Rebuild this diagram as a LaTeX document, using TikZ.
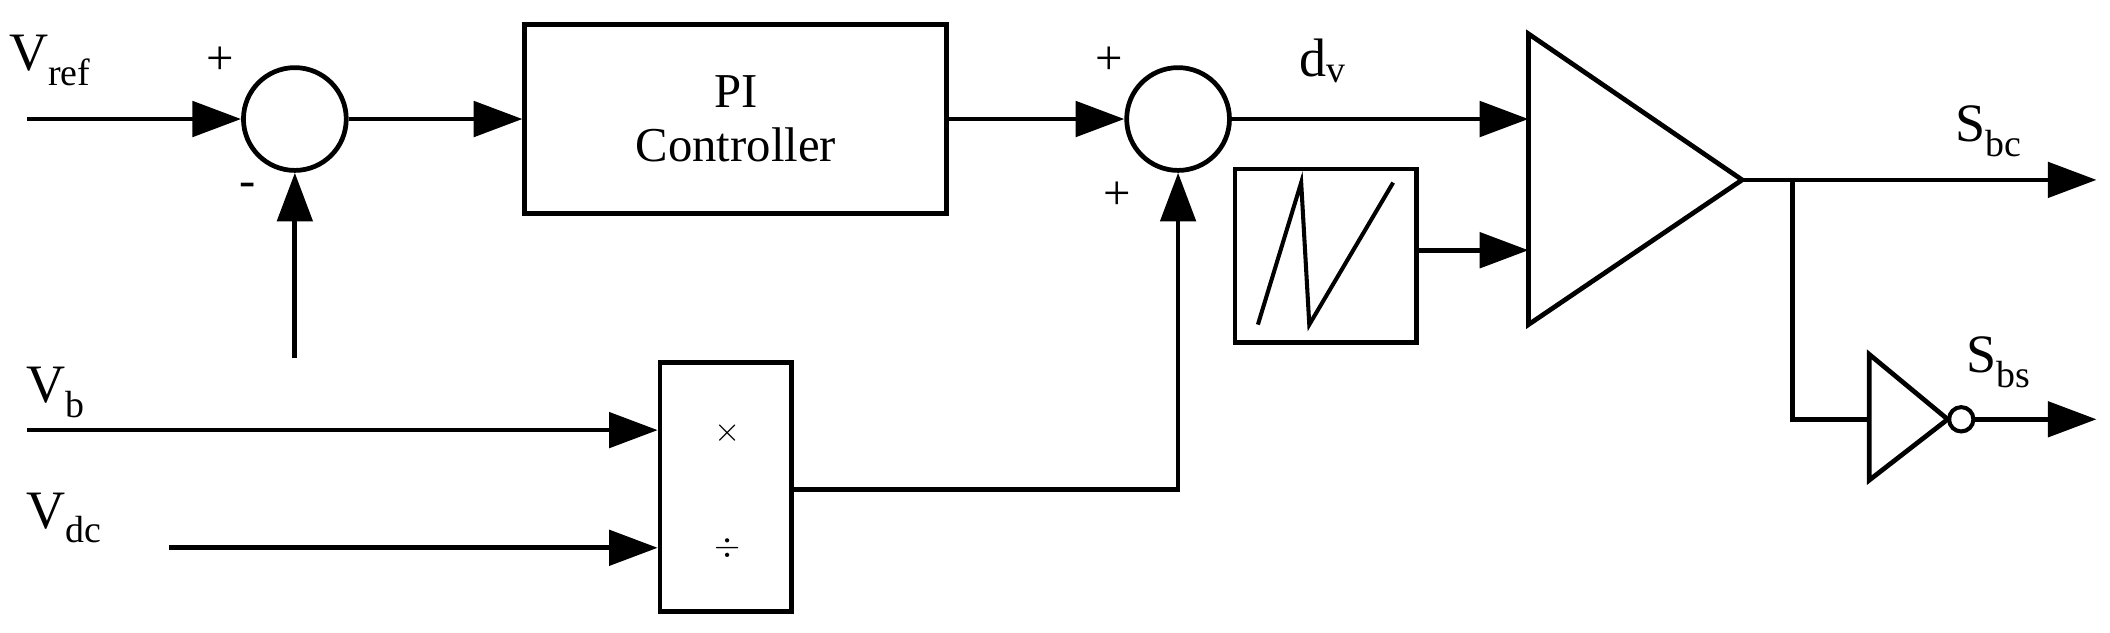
\documentclass[tikz,border=0pt]{standalone}
\usepackage{fontspec}
\setmainfont{Liberation Serif}
\usetikzlibrary{arrows.meta}
\begin{document}
\begin{tikzpicture}[x=1pt,y=-1pt,line width=3.5pt,
  ar/.style={-{Triangle[length=36pt,width=26pt]}},
  lbl/.style={font=\fontsize{40}{44}\selectfont,inner sep=0},
  sgn/.style={font=\fontsize{36}{40}\selectfont,inner sep=0}]
\useasboundingbox (0,0) rectangle (1560,468);
% summers
\node[circle,draw,minimum size=76pt,inner sep=0] (s1) at (218,88) {};
\node[circle,draw,minimum size=76pt,inner sep=0] (s2) at (871,88) {};
\node[draw,minimum width=312pt,minimum height=140pt,inner sep=0,align=center,
  font=\fontsize{36}{40}\selectfont] (pi) at (544,88) {PI\\Controller};
\node[draw,minimum width=97pt,minimum height=184pt,inner sep=0] (md) at (536.5,360) {};
\node[lbl] (mul) at (538,320) {$\times$};
\node[lbl] (dv) at (538,405) {$\div$};
\node[draw,minimum width=134pt,minimum height=128pt,inner sep=0] (saw) at (980,189) {};
\draw[line width=3pt] (930,240)--(962,135)--(968,240)--(1030,135);
% comparator
\node[draw,shape=coordinate] (c1) at (1130,25) {};
\coordinate (c2) at (1130,240);
\coordinate (cout) at (1288,133);
\draw (c1)--(c2)--(cout)--cycle;
\coordinate (cin1) at (1130,88);
\coordinate (cin2) at (1130,185);
% inputs
\coordinate (vr) at (20,88);
\coordinate (vbs) at (20,318);
\coordinate (vds) at (125,405);
\coordinate (fb) at (218,265);
\node[lbl,anchor=west] (Vref) at (5,45) {V\textsubscript{ref}};
\node[lbl,anchor=west] (Vb) at (18,290) {V\textsubscript{b}};
\node[lbl,anchor=west] (Vdc) at (18,383) {V\textsubscript{dc}};
\node[sgn] (p1) at (163,45) {+};
\node[sgn] (m1) at (183,140) {-};
\node[sgn] (p2) at (820,45) {+};
\node[sgn] (p3) at (826,145) {+};
\node[lbl] (dvl) at (978,45) {d\textsubscript{v}};
\draw[ar] (vr)--(s1.west);
\draw[ar] (fb)--(s1.south);
\draw[ar] (s1.east)--(pi.west);
\draw[ar] (pi.east)--(s2.west);
\draw[ar] (vbs)--(md.west|-vbs);
\draw[ar] (vds)--(md.west|-vds);
\draw[ar] (md.east|-0,362)-|(s2.south);
\draw[ar] (s2.east)--(cin1);
\draw[ar] (saw.east|-cin2)--(cin2);
% outputs
\coordinate (o1) at (1550,133);
\draw[ar] (cout)--(o1);
\node[lbl] (Sbc) at (1470,97) {S\textsubscript{bc}};
\coordinate (br) at (1325,133);
\coordinate (i1) at (1382,262);
\coordinate (i2) at (1382,355);
\coordinate (i3) at (1440,310);
\draw (br)|-(1382,310);
\draw (i1)--(i2)--(i3)--cycle;
\node[circle,draw,line width=3pt,minimum size=18pt,inner sep=0] (bub) at (1450,310) {};
\coordinate (o2) at (1550,310);
\draw[ar] (bub.east)--(o2);
\node[lbl] (Sbs) at (1478,268) {S\textsubscript{bs}};
\end{tikzpicture}
\end{document}
